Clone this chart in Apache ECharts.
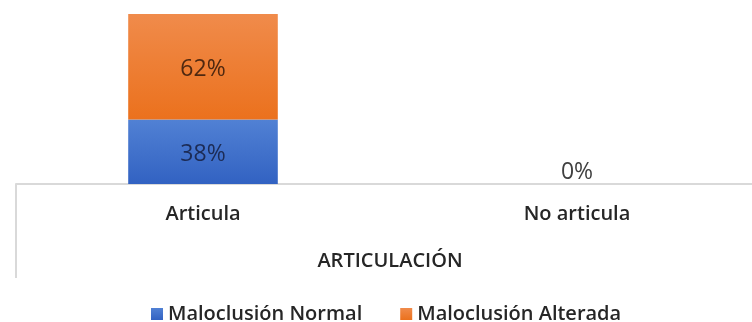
<!DOCTYPE html>
<html>
<head>
<meta charset="utf-8">
<script src="https://cdn.jsdelivr.net/npm/echarts@6/dist/echarts.min.js"></script>
<style>
  html, body { margin: 0; padding: 0; background: #fff; }
  #chart { width: 752px; height: 322px; }
</style>
</head>
<body>
<div id="chart"></div>
<script>
// datos
const categories = ['Articula', 'No articula'];
const normal = [38, 0];
const alterada = [62, 0];
const axisTitle = 'ARTICULACIÓN';
const seriesNames = ['Maloclusión Normal', 'Maloclusión Alterada'];

const chart = echarts.init(document.getElementById('chart'));

const boldText = {
  fontFamily: 'Open Sans',
  fontWeight: 600,
  fontSize: 20,
  color: '#262626'
};

const option = {
  animation: false,
  // el eje sigue más allá del borde derecho, como en el original recortado
  grid: { left: 16, top: 14, width: 748, height: 170, outerBoundsMode: 'none' },
  legend: {
    left: 146,
    top: 299,
    itemWidth: 12,
    itemHeight: 12,
    itemGap: 38,
    icon: 'rect',
    textStyle: boldText,
    data: seriesNames
  },
  xAxis: {
    type: 'category',
    data: categories,
    name: axisTitle,
    nameLocation: 'middle',
    nameGap: 67,
    nameTextStyle: boldText,
    axisLine: { lineStyle: { color: '#d9d9d9', width: 2 } },
    axisTick: {
      show: true,
      length: 94,
      interval: (i) => i === 0,
      lineStyle: { color: '#d9d9d9', width: 2 }
    },
    axisLabel: {
      margin: 20,
      ...boldText
    }
  },
  yAxis: {
    type: 'value',
    min: 0,
    max: 100,
    show: false
  },
  series: [
    {
      name: seriesNames[0],
      type: 'bar',
      stack: 'total',
      barWidth: '40%',
      itemStyle: {
        color: new echarts.graphic.LinearGradient(0, 0, 0, 1, [
          { offset: 0, color: '#5181d4' },
          { offset: 1, color: '#3262c2' }
        ])
      },
      label: {
        show: true,
        position: 'inside',
        offset: [0, 3],
        formatter: p => p.value > 0 ? p.value + '%' : '',
        fontFamily: 'Open Sans',
        fontSize: 23,
        color: '#1c2b55'
      },
      data: normal
    },
    {
      name: seriesNames[1],
      type: 'bar',
      stack: 'total',
      itemStyle: {
        color: new echarts.graphic.LinearGradient(0, 0, 0, 1, [
          { offset: 0, color: '#f08b4b' },
          { offset: 1, color: '#eb711d' }
        ])
      },
      label: {
        show: true,
        position: 'inside',
        offset: [0, 3],
        formatter: p => p.value + '%',
        fontFamily: 'Open Sans',
        fontSize: 23,
        color: '#4f2810'
      },
      data: alterada.map(v => v === 0
        ? { value: v, label: { position: 'top', distance: 0, offset: [0, 0], color: '#404040' } }
        : v)
    }
  ]
};

chart.setOption(option);
</script>
</body>
</html>
